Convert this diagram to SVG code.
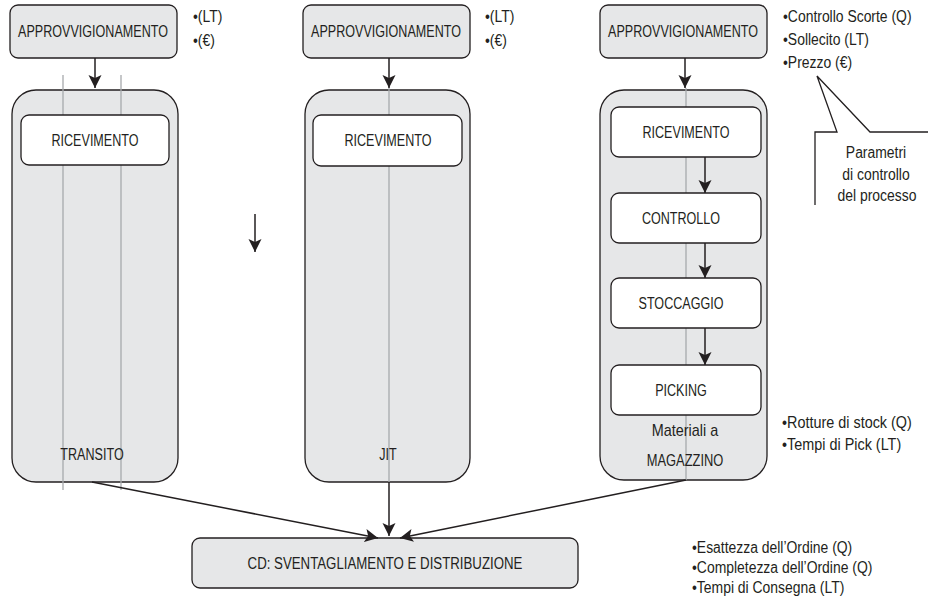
<svg xmlns="http://www.w3.org/2000/svg" width="928" height="601" viewBox="0 0 928 601">
<style>
text{font-family:"Liberation Sans",Arial,sans-serif;fill:#231f20}
.L{font-size:17px;text-anchor:middle}
.m{font-size:16px;text-anchor:middle}
.b{font-size:16px}
.top{fill:#e6e7e8;stroke:#231f20;stroke-width:1.3}
.big{fill:#e6e7e8;stroke:#231f20;stroke-width:1.3}
.in{fill:#ffffff;stroke:#231f20;stroke-width:1.3}
.g{stroke:#a7a9ac;stroke-width:1.3;fill:none}
.k{stroke:#231f20;stroke-width:1.5;fill:none;marker-end:url(#ah)}
</style>
<defs>
<marker id="ah" markerUnits="userSpaceOnUse" markerWidth="14" markerHeight="14" refX="13" refY="6.5" orient="auto">
<path d="M0,0 L13,6.5 L0,13 L3,6.5 z" fill="#231f20"/>
</marker>
</defs>

<g id="containers">
<rect id="transito-box" class="big" x="12" y="90" width="166" height="392" rx="24"/>
<rect id="jit-box" class="big" x="305" y="90" width="165" height="392" rx="24"/>
<rect id="magazzino-box" class="big" x="600" y="90" width="167" height="390" rx="24"/>
</g>

<g id="guides">
<line class="g" x1="63" y1="75" x2="63" y2="490"/>
<line class="g" x1="121" y1="75" x2="121" y2="490"/>
<line class="g" x1="389" y1="88" x2="389" y2="482"/>
<line class="g" x1="686" y1="88" x2="686" y2="480"/>
</g>

<g id="approv-1"><rect class="top" x="10" y="5" width="167" height="53" rx="8"/><text class="L" transform="translate(93,37) scale(0.74,1)">APPROVVIGIONAMENTO</text></g>
<g id="approv-2"><rect class="top" x="303" y="5" width="167" height="53" rx="8"/><text class="L" transform="translate(386,37) scale(0.74,1)">APPROVVIGIONAMENTO</text></g>
<g id="approv-3"><rect class="top" x="600" y="5" width="167" height="53" rx="8"/><text class="L" transform="translate(683,37) scale(0.74,1)">APPROVVIGIONAMENTO</text></g>

<g id="ric-1"><rect class="in" x="21" y="115" width="148" height="50" rx="8"/><text class="L" transform="translate(95,146) scale(0.74,1)">RICEVIMENTO</text></g>
<g id="ric-2"><rect class="in" x="313" y="115" width="149" height="51" rx="8"/><text class="L" transform="translate(388,146) scale(0.74,1)">RICEVIMENTO</text></g>
<g id="ric-3"><rect class="in" x="611" y="107" width="150" height="50" rx="8"/><text class="L" transform="translate(686,138) scale(0.74,1)">RICEVIMENTO</text></g>
<g id="controllo"><rect class="in" x="611" y="193" width="150" height="50" rx="8"/><text class="L" transform="translate(681,224) scale(0.74,1)">CONTROLLO</text></g>
<g id="stoccaggio"><rect class="in" x="611" y="278" width="150" height="50" rx="8"/><text class="L" transform="translate(681,309) scale(0.74,1)">STOCCAGGIO</text></g>
<g id="picking"><rect class="in" x="611" y="365" width="150" height="50" rx="8"/><text class="L" transform="translate(681,396) scale(0.74,1)">PICKING</text></g>

<g id="labels">
<text class="L" transform="translate(92,460) scale(0.74,1)">TRANSITO</text>
<text class="L" transform="translate(388,460) scale(0.74,1)">JIT</text>
<text class="m" transform="translate(685,436) scale(0.9,1)">Materiali a</text>
<text class="L" transform="translate(685,466) scale(0.76,1)">MAGAZZINO</text>
</g>

<g id="cd"><rect class="top" x="192" y="538" width="386" height="50" rx="8"/><text class="L" transform="translate(385,569) scale(0.78,1)">CD: SVENTAGLIAMENTO E DISTRIBUZIONE</text></g>

<g id="connectors">
<line class="k" x1="95" y1="58" x2="95" y2="88"/>
<line class="k" x1="389" y1="58" x2="389" y2="88"/>
<line class="k" x1="685" y1="58" x2="685" y2="88"/>
<line class="k" x1="705" y1="157" x2="705" y2="193"/>
<line class="k" x1="705" y1="243" x2="705" y2="278"/>
<line class="k" x1="705" y1="328" x2="705" y2="365"/>
<line class="k" x1="255" y1="214" x2="255" y2="252"/>
<line class="k" x1="92" y1="482" x2="378" y2="538"/>
<line class="k" x1="389" y1="482" x2="389" y2="536"/>
<line class="k" x1="686" y1="480" x2="400" y2="538"/>
</g>

<g id="params-1"><text class="b" transform="translate(193,22) scale(0.87,1)">•(LT)</text><text class="b" transform="translate(193,46) scale(0.87,1)">•(€)</text></g>
<g id="params-2"><text class="b" transform="translate(485,22) scale(0.87,1)">•(LT)</text><text class="b" transform="translate(485,46) scale(0.87,1)">•(€)</text></g>
<g id="params-3"><text class="b" transform="translate(783,22) scale(0.87,1)">•Controllo Scorte (Q)</text><text class="b" transform="translate(783,45) scale(0.87,1)">•Sollecito (LT)</text><text class="b" transform="translate(783,68) scale(0.87,1)">•Prezzo (€)</text></g>
<g id="params-4"><text class="b" transform="translate(782,428) scale(0.9,1)">•Rotture di stock (Q)</text><text class="b" transform="translate(782,450) scale(0.9,1)">•Tempi di Pick (LT)</text></g>
<g id="params-5"><text class="b" transform="translate(692,553) scale(0.87,1)">•Esattezza dell’Ordine (Q)</text><text class="b" transform="translate(692,573) scale(0.87,1)">•Completezza dell’Ordine (Q)</text><text class="b" transform="translate(692,593) scale(0.87,1)">•Tempi di Consegna (LT)</text></g>

<g id="callout">
<path d="M815,205 L815,132 L837,132 L817,76 L870,132 L928,132 L928,205 Z" fill="#ffffff" stroke="none"/>
<polyline points="815,205 815,132 837,132 817,76 870,132 928,132" fill="none" stroke="#231f20" stroke-width="1.3"/>
<text class="m" transform="translate(876,158) scale(0.87,1)">Parametri</text>
<text class="m" transform="translate(876,180) scale(0.87,1)">di controllo</text>
<text class="m" transform="translate(877,201) scale(0.87,1)">del processo</text>
</g>
</svg>
